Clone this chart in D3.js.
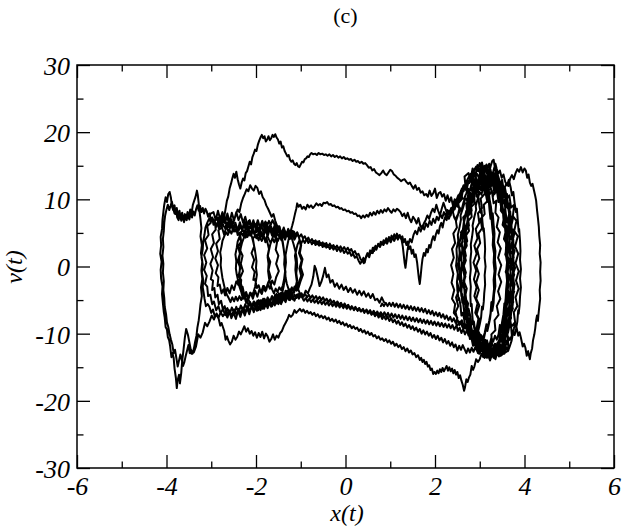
<!DOCTYPE html>
<html>
<head>
<meta charset="utf-8">
<script src="https://cdn.jsdelivr.net/npm/d3@7"></script>
<style>
  html, body { margin: 0; padding: 0; background: #fff; }
  svg { display: block; }
</style>
</head>
<body>
<svg id="chart" width="623" height="527"></svg>
<script>
// ---------------- data ----------------
const titleText = "(c)";
const xLabel = "x(t)";
const yLabel = "v(t)";
const xMajorTicks = [-6, -4, -2, 0, 2, 4, 6];
const xMinorTicks = [-5, -3, -1, 1, 3, 5];
const yMajorTicks = [-30, -20, -10, 0, 10, 20, 30];
const yMinorTicks = [-25, -15, -5, 5, 15, 25];

// trajectory pieces, in time order, as [x, v]
const startLeg = [[0.86,-5.3],[0.81,-4.6],[0.76,-5.4],[0.71,-4.8],[0.66,-5.0],[0.61,-4.1],[0.56,-4.7],[0.51,-4.0],[0.46,-4.5],[0.41,-3.7],[0.36,-4.3],[0.31,-3.6],[0.26,-4.2],[0.21,-3.4],[0.16,-3.9],[0.11,-3.2],[0.06,-3.8],[0.01,-3.0],[-0.04,-3.5],[-0.09,-2.7],[-0.14,-3.3],[-0.19,-2.5],[-0.24,-3.0],[-0.29,-2.0],[-0.34,-2.4],[-0.38,-1.2],[-0.42,-1.6],[-0.46,-0.2],[-0.50,-1.4],[-0.54,-2.3],[-0.58,-2.9],[-0.62,-1.6],[-0.66,-0.4],[-0.69,0.1],[-0.72,-1.5],[-0.76,-2.7],[-0.80,-3.3],[-0.84,-4.0],[-0.89,-3.6],[-0.94,-4.5],[-0.99,-4.0],[-1.04,-4.8],[-1.09,-4.2],[-1.14,-5.1],[-1.19,-4.4],[-1.24,-5.0],[-1.29,-4.3],[-1.34,-5.3],[-1.39,-4.7],[-1.44,-5.6],[-1.49,-4.9],[-1.54,-5.5],[-1.59,-4.8],[-1.64,-5.9],[-1.69,-5.2],[-1.74,-6.1],[-1.79,-5.3],[-1.84,-6.0],[-1.89,-5.4],[-1.94,-6.4],[-1.99,-5.7],[-2.04,-6.5],[-2.09,-5.8],[-2.14,-6.6],[-2.19,-5.9],[-2.24,-6.8],[-2.29,-6.1],[-2.34,-7.0],[-2.39,-6.3],[-2.44,-7.1],[-2.49,-6.4],[-2.54,-7.3],[-2.59,-6.7],[-2.64,-7.6],[-2.69,-6.9],[-2.74,-7.4],[-2.79,-6.8],[-2.84,-7.7],[-2.89,-7.1],[-2.94,-7.9],[-2.99,-7.3],[-3.04,-8.2],[-3.09,-8.9],[-3.14,-8.4],[-3.19,-9.8],[-3.24,-10.6],[-3.29,-10.1],[-3.34,-11.9],[-3.39,-12.8],[-3.44,-13.0]];

const leftOuterLoop = [[-3.48,-11.6],[-3.52,-10.2],[-3.56,-9.3],[-3.59,-10.6],[-3.62,-12.4],[-3.65,-14.1],[-3.67,-15.8],[-3.70,-17.4],[-3.72,-16.1],[-3.75,-16.9],[-3.77,-18.1],[-3.79,-16.6],[-3.82,-15.2],[-3.84,-13.6],[-3.87,-12.9],[-3.89,-13.5],[-3.92,-11.8],[-3.94,-11.0],[-3.97,-10.5],[-3.99,-9.4],[-4.02,-9.0],[-4.04,-7.6],[-4.06,-6.8],[-4.08,-5.5],[-4.10,-4.1],[-4.09,-3.0],[-4.12,-1.8],[-4.13,-0.5],[-4.11,0.7],[-4.14,1.9],[-4.12,3.2],[-4.13,4.4],[-4.10,5.6],[-4.09,6.9],[-4.07,8.1],[-4.05,9.2],[-4.02,10.3],[-3.99,9.6],[-3.96,10.8],[-3.93,11.1],[-3.90,10.2],[-3.88,9.0],[-3.85,8.4],[-3.82,9.1],[-3.80,7.8],[-3.77,8.7],[-3.74,7.4],[-3.71,8.3],[-3.68,7.1],[-3.65,8.0],[-3.62,6.9],[-3.59,7.8],[-3.56,7.2],[-3.53,8.1],[-3.50,7.3],[-3.47,8.5],[-3.44,7.9],[-3.41,9.2],[-3.38,9.8],[-3.35,10.4],[-3.32,11.3],[-3.30,10.6],[-3.28,9.4],[-3.26,8.1],[-3.24,7.0],[-3.22,5.7],[-3.24,4.5],[-3.21,3.2],[-3.23,2.0],[-3.20,0.8],[-3.22,-0.6],[-3.20,-1.9],[-3.23,-3.1],[-3.21,-4.4],[-3.24,-5.6],[-3.26,-6.9],[-3.28,-8.0],[-3.31,-9.1],[-3.33,-10.3],[-3.36,-11.2],[-3.39,-12.3],[-3.42,-13.0],[-3.45,-12.4],[-3.48,-12.9],[-3.51,-11.7],[-3.54,-12.5],[-3.57,-13.3],[-3.60,-14.2],[-3.63,-14.8],[-3.66,-13.9],[-3.69,-13.1],[-3.72,-14.0],[-3.75,-14.9],[-3.78,-13.6],[-3.81,-12.4],[-3.84,-12.9],[-3.87,-11.6],[-3.90,-10.9],[-3.93,-10.1],[-3.96,-9.0],[-3.99,-8.3],[-4.01,-7.1],[-4.04,-6.0],[-4.05,-4.7],[-4.07,-3.5],[-4.06,-2.2],[-4.08,-0.9],[-4.07,0.4],[-4.09,1.6],[-4.07,2.9],[-4.08,4.1],[-4.06,5.3],[-4.05,6.5],[-4.03,7.6],[-4.00,8.5],[-3.97,9.2],[-3.94,8.4],[-3.91,9.0],[-3.88,9.7],[-3.85,8.6],[-3.82,7.9],[-3.79,8.5],[-3.76,7.3],[-3.73,6.9],[-3.70,7.8],[-3.67,6.8],[-3.64,7.6],[-3.61,6.6],[-3.58,7.4],[-3.55,6.9],[-3.52,7.7],[-3.49,7.0],[-3.46,7.9],[-3.43,7.3],[-3.40,8.2],[-3.37,7.6],[-3.34,8.5],[-3.31,9.1],[-3.28,8.3],[-3.25,9.0],[-3.22,8.1],[-3.19,8.7],[-3.16,7.9],[-3.13,8.6]];

const topArcCrossing = [[-3.10,8.2],[-3.07,7.4],[-3.04,7.9],[-3.01,6.8],[-2.98,7.3],[-2.95,6.2],[-2.92,6.7],[-2.89,5.9],[-2.86,6.6],[-2.83,5.7],[-2.80,6.3],[-2.77,5.8],[-2.74,6.5],[-2.71,7.4],[-2.68,8.6],[-2.65,9.8],[-2.62,10.4],[-2.59,11.6],[-2.56,12.3],[-2.53,13.1],[-2.50,13.8],[-2.47,13.2],[-2.44,14.1],[-2.41,13.0],[-2.38,12.2],[-2.35,11.6],[-2.32,12.5],[-2.29,13.1],[-2.26,12.8],[-2.23,13.9],[-2.20,14.2],[-2.17,14.9],[-2.14,15.6],[-2.11,15.2],[-2.08,16.3],[-2.05,16.8],[-2.02,17.4],[-1.99,17.2],[-1.96,18.1],[-1.93,18.7],[-1.90,19.2],[-1.87,19.6],[-1.84,19.1],[-1.81,19.4],[-1.78,18.6],[-1.75,18.9],[-1.72,19.4],[-1.69,18.8],[-1.66,19.1],[-1.63,19.6],[-1.60,19.3],[-1.57,19.7],[-1.54,19.2],[-1.51,18.9],[-1.48,18.3],[-1.45,18.6],[-1.42,17.7],[-1.39,17.9],[-1.36,17.2],[-1.33,16.8],[-1.30,16.4],[-1.27,16.6],[-1.24,15.9],[-1.21,15.6],[-1.18,15.8],[-1.15,15.3],[-1.12,15.1],[-1.09,15.4],[-1.06,14.9],[-1.03,14.8],[-1.00,15.2],[-0.97,15.6],[-0.94,15.5],[-0.91,16.0],[-0.88,16.1],[-0.85,16.4],[-0.82,16.3],[-0.79,16.7],[-0.76,16.9],[-0.72,16.7],[-0.68,16.8],[-0.64,16.6],[-0.60,16.9],[-0.56,16.7],[-0.52,16.8],[-0.48,16.6],[-0.44,16.7],[-0.40,16.5],[-0.36,16.7],[-0.32,16.4],[-0.28,16.6],[-0.24,16.3],[-0.20,16.5],[-0.16,16.2],[-0.12,16.4],[-0.08,16.1],[-0.04,16.3],[0.00,16.0],[0.04,16.1],[0.08,15.9],[0.12,16.0],[0.16,15.7],[0.20,15.9],[0.24,15.6],[0.28,15.7],[0.32,15.4],[0.36,15.6],[0.40,15.3],[0.44,15.4],[0.48,15.1],[0.52,14.7],[0.56,14.8],[0.60,14.3],[0.64,14.5],[0.68,14.0],[0.72,13.8],[0.76,13.6],[0.80,13.9],[0.84,14.3],[0.88,13.8],[0.92,13.6],[0.96,14.0],[1.00,14.4],[1.04,14.2],[1.08,13.7],[1.12,13.5],[1.16,13.2],[1.20,13.0],[1.24,12.7],[1.28,12.9],[1.32,13.0],[1.36,12.6],[1.40,12.3],[1.44,12.5],[1.48,12.0],[1.52,11.6],[1.56,12.1],[1.60,11.4],[1.64,11.7],[1.68,11.0],[1.72,11.2],[1.76,10.6],[1.80,10.8],[1.84,10.4],[1.88,11.3],[1.92,10.5],[1.96,10.9],[2.00,11.6],[2.04,10.2],[2.08,10.9],[2.12,11.1],[2.16,10.4],[2.20,10.8],[2.24,9.8],[2.28,10.6],[2.32,9.6],[2.36,10.3],[2.40,9.1],[2.44,10.0],[2.48,9.3],[2.52,10.5],[2.56,10.9],[2.60,11.6],[2.64,11.2],[2.68,12.4],[2.72,12.9],[2.76,12.4],[2.80,13.8],[2.84,13.3],[2.88,14.4],[2.92,14.9],[2.96,14.2],[3.00,15.4],[3.04,14.6],[3.07,13.6],[3.10,14.4],[3.13,15.0],[3.16,13.9],[3.19,13.2],[3.22,14.3],[3.25,15.1],[3.28,15.7],[3.31,15.9],[3.34,14.6],[3.37,13.6],[3.40,12.8],[3.43,11.6],[3.46,12.1],[3.49,10.5],[3.52,9.4],[3.55,9.9],[3.58,8.0],[3.61,6.6],[3.63,7.1],[3.65,5.2],[3.67,3.8],[3.66,2.5],[3.69,1.1],[3.68,-0.3],[3.70,-1.7],[3.68,-3.0],[3.69,-4.4],[3.66,-5.7],[3.64,-6.9],[3.62,-6.3],[3.60,-8.0],[3.57,-9.1],[3.53,-9.6],[3.50,-10.8],[3.46,-10.2],[3.42,-11.4],[3.38,-12.0],[3.34,-11.5],[3.30,-12.6],[3.26,-12.9],[3.22,-12.2],[3.18,-12.7],[3.14,-11.8],[3.10,-12.3],[3.06,-11.2],[3.02,-11.6],[2.98,-10.5],[2.94,-9.8],[2.91,-10.4],[2.87,-8.9],[2.84,-8.2],[2.81,-8.7],[2.78,-7.1],[2.75,-6.3],[2.73,-6.8],[2.70,-5.1],[2.68,-4.0],[2.67,-4.5],[2.65,-2.9],[2.66,-1.6],[2.63,-0.3],[2.65,1.0],[2.64,2.3],[2.67,3.6],[2.66,4.5],[2.70,5.8],[2.73,7.0],[2.72,7.7],[2.77,8.9],[2.81,9.8],[2.84,9.5],[2.88,10.9],[2.92,11.5],[2.96,11.0],[3.00,12.3],[3.04,12.9],[3.08,12.1],[3.12,12.9],[3.16,11.8],[3.20,12.5],[3.24,11.7],[3.28,12.6],[3.32,12.0],[3.36,11.2],[3.40,11.9],[3.44,10.8],[3.48,11.3],[3.52,10.5],[3.56,11.8],[3.60,12.4],[3.64,12.0],[3.68,13.1],[3.72,13.6],[3.76,13.0],[3.80,13.9],[3.84,14.5],[3.88,14.1],[3.92,14.8],[3.96,14.0],[4.00,14.6],[4.03,14.3],[4.06,13.2],[4.09,13.7],[4.12,12.5],[4.15,12.0],[4.18,12.3],[4.21,11.4],[4.24,10.5],[4.26,9.8],[4.28,8.4],[4.30,7.2],[4.32,5.9],[4.33,4.6],[4.35,3.2],[4.34,1.9],[4.36,0.6],[4.35,-0.8],[4.36,-2.1],[4.34,-3.5],[4.35,-4.8],[4.33,-6.0],[4.31,-7.3],[4.30,-8.1],[4.28,-7.3],[4.26,-8.0],[4.24,-9.2],[4.22,-10.1],[4.19,-11.0],[4.17,-12.2],[4.14,-12.9],[4.12,-13.8],[4.10,-13.2],[4.08,-12.6],[4.05,-13.3],[4.02,-12.1],[3.99,-11.5],[3.96,-11.9],[3.92,-10.6],[3.89,-9.8],[3.86,-10.3],[3.82,-9.0],[3.79,-8.5],[3.76,-9.3],[3.72,-10.2],[3.68,-10.9],[3.64,-10.5],[3.60,-11.5],[3.56,-12.0],[3.52,-11.4],[3.48,-12.3],[3.44,-11.8],[3.40,-12.7],[3.36,-12.1],[3.32,-13.0],[3.28,-12.4],[3.24,-13.3],[3.20,-12.8],[3.16,-13.6],[3.12,-12.9],[3.08,-13.5],[3.04,-13.0],[3.00,-13.8]];

const bottomLowCrossing = [[2.96,-14.2],[2.92,-13.8],[2.88,-14.9],[2.85,-15.4],[2.82,-14.8],[2.79,-16.1],[2.76,-16.5],[2.73,-17.2],[2.70,-16.8],[2.67,-18.0],[2.65,-18.5],[2.62,-17.6],[2.59,-17.0],[2.56,-16.2],[2.53,-16.6],[2.50,-15.7],[2.47,-16.1],[2.44,-15.4],[2.41,-15.9],[2.38,-15.2],[2.35,-15.6],[2.32,-15.0],[2.29,-15.5],[2.26,-14.8],[2.23,-15.2],[2.20,-15.6],[2.17,-15.1],[2.14,-15.7],[2.11,-15.3],[2.08,-15.9],[2.05,-15.5],[2.02,-16.0],[1.99,-15.7],[1.96,-16.0],[1.93,-15.2],[1.90,-15.4],[1.87,-14.7],[1.84,-14.9],[1.81,-14.2],[1.78,-14.5],[1.75,-13.9],[1.72,-14.2],[1.69,-13.6],[1.66,-13.9],[1.62,-13.2],[1.58,-13.5],[1.54,-12.9],[1.50,-13.1],[1.46,-12.5],[1.42,-12.8],[1.38,-12.2],[1.34,-12.6],[1.30,-12.0],[1.26,-12.3],[1.22,-11.7],[1.18,-12.0],[1.14,-11.5],[1.10,-11.8],[1.06,-11.2],[1.02,-11.5],[0.98,-11.0],[0.94,-11.3],[0.90,-10.8],[0.86,-11.1],[0.82,-10.7],[0.78,-10.9],[0.74,-10.4],[0.70,-10.7],[0.66,-10.2],[0.62,-10.4],[0.58,-9.9],[0.54,-10.2],[0.50,-9.7],[0.46,-10.0],[0.42,-9.5],[0.38,-9.8],[0.34,-9.3],[0.30,-9.6],[0.26,-9.1],[0.22,-9.3],[0.18,-8.9],[0.14,-9.2],[0.10,-8.7],[0.06,-9.0],[0.02,-8.5],[-0.02,-8.8],[-0.06,-8.3],[-0.10,-8.6],[-0.14,-8.1],[-0.18,-8.4],[-0.22,-7.9],[-0.26,-8.2],[-0.30,-7.8],[-0.34,-8.1],[-0.38,-7.6],[-0.42,-7.9],[-0.46,-7.4],[-0.50,-7.7],[-0.54,-7.3],[-0.58,-7.6],[-0.62,-7.1],[-0.66,-7.4],[-0.70,-6.9],[-0.74,-7.2],[-0.78,-6.8],[-0.82,-7.0],[-0.86,-6.6],[-0.90,-6.9],[-0.94,-6.4],[-0.98,-6.7],[-1.02,-6.3],[-1.06,-6.6],[-1.10,-6.9],[-1.14,-6.5],[-1.18,-7.2],[-1.22,-7.5],[-1.26,-7.2],[-1.30,-7.9],[-1.34,-8.4],[-1.38,-8.9],[-1.42,-9.6],[-1.46,-9.9],[-1.50,-10.6],[-1.54,-10.3],[-1.58,-10.9],[-1.62,-10.1],[-1.66,-10.8],[-1.70,-11.2],[-1.74,-10.4],[-1.78,-10.0],[-1.82,-10.7],[-1.86,-9.7],[-1.90,-10.5],[-1.94,-9.9],[-1.98,-10.6],[-2.02,-9.8],[-2.06,-10.3],[-2.10,-9.6],[-2.14,-10.0],[-2.18,-9.2],[-2.22,-9.7],[-2.26,-8.9],[-2.30,-9.5],[-2.34,-10.1],[-2.38,-9.7],[-2.42,-10.5],[-2.46,-10.9],[-2.50,-10.3],[-2.54,-11.2],[-2.58,-11.6],[-2.62,-11.0],[-2.65,-10.4],[-2.68,-10.9],[-2.71,-9.6],[-2.74,-9.0],[-2.77,-8.4],[-2.80,-8.8],[-2.84,-7.6],[-2.88,-7.0],[-2.92,-7.5],[-2.96,-6.4],[-3.00,-6.9],[-3.04,-6.0],[-3.08,-5.6],[-3.12,-5.9],[-3.15,-4.8],[-3.17,-3.9],[-3.19,-3.1],[-3.18,-2.0],[-3.21,-0.9],[-3.19,0.3],[-3.22,1.4],[-3.19,2.6],[-3.18,3.7],[-3.15,4.8],[-3.13,5.8],[-3.09,6.5],[-3.05,7.1],[-3.01,6.6]];

const leftMidLoops = [[-2.97,7.2],[-2.93,6.5],[-2.89,7.4],[-2.85,6.8],[-2.81,6.2],[-2.77,6.9],[-2.73,6.1],[-2.69,5.7],[-2.65,6.5],[-2.61,5.9],[-2.57,6.6],[-2.53,6.0],[-2.49,6.9],[-2.45,7.7],[-2.41,8.5],[-2.37,8.1],[-2.33,9.4],[-2.29,10.2],[-2.25,10.8],[-2.21,11.5],[-2.17,11.2],[-2.13,12.1],[-2.09,11.6],[-2.05,11.3],[-2.01,12.0],[-1.97,11.7],[-1.93,10.8],[-1.89,11.2],[-1.85,10.3],[-1.81,9.9],[-1.77,9.1],[-1.73,8.6],[-1.69,8.0],[-1.65,7.4],[-1.61,7.8],[-1.57,6.8],[-1.53,6.1],[-1.50,5.4],[-1.47,5.9],[-1.44,4.6],[-1.41,3.7],[-1.38,2.5],[-1.36,1.4],[-1.37,0.3],[-1.34,-0.8],[-1.36,-1.9],[-1.38,-2.9],[-1.41,-3.8],[-1.45,-4.4],[-1.49,-4.0],[-1.53,-4.7],[-1.57,-4.2],[-1.61,-5.0],[-1.65,-4.5],[-1.69,-5.3],[-1.73,-4.7],[-1.77,-5.4],[-1.81,-4.8],[-1.85,-5.6],[-1.89,-5.0],[-1.93,-5.7],[-1.97,-5.1],[-2.01,-5.8],[-2.05,-5.2],[-2.09,-5.9],[-2.13,-5.3],[-2.17,-5.7],[-2.21,-5.0],[-2.25,-4.4],[-2.29,-4.8],[-2.33,-3.8],[-2.37,-3.0],[-2.40,-2.1],[-2.43,-1.2],[-2.45,-0.3],[-2.44,0.8],[-2.46,1.8],[-2.43,2.8],[-2.41,3.7],[-2.37,4.4],[-2.33,5.0],[-2.29,4.6],[-2.25,5.4],[-2.21,4.9],[-2.17,5.6],[-2.13,5.0],[-2.09,4.4],[-2.06,3.6],[-2.03,2.7],[-2.01,1.8],[-1.99,0.8],[-2.00,-0.2],[-1.98,-1.2],[-2.00,-2.1],[-2.02,-3.0],[-2.05,-3.7],[-2.09,-4.3],[-2.13,-3.9],[-2.17,-4.6],[-2.21,-4.1],[-2.25,-4.8],[-2.29,-4.3],[-2.33,-5.0],[-2.37,-4.4],[-2.41,-5.1],[-2.45,-4.5],[-2.49,-5.2],[-2.53,-4.6],[-2.57,-5.3],[-2.61,-4.7],[-2.65,-4.2],[-2.69,-3.5],[-2.72,-2.6],[-2.75,-1.7],[-2.77,-0.8],[-2.79,0.2],[-2.78,1.2],[-2.80,2.1],[-2.77,3.0],[-2.75,3.8],[-2.71,4.5],[-2.67,5.1],[-2.63,4.7],[-2.59,5.4],[-2.55,4.9],[-2.51,5.7],[-2.47,5.2],[-2.43,5.9],[-2.39,5.3],[-2.35,6.0],[-2.31,5.4],[-2.27,6.1],[-2.23,5.5],[-2.19,6.2],[-2.15,5.6],[-2.11,6.3],[-2.07,5.7],[-2.03,6.4],[-1.99,5.8],[-1.95,6.5],[-1.91,5.9],[-1.87,6.6],[-1.83,6.0],[-1.79,6.7],[-1.75,6.1],[-1.71,6.8],[-1.67,6.2],[-1.63,6.9],[-1.59,6.3],[-1.55,5.6],[-1.51,6.0],[-1.47,5.2],[-1.43,4.5],[-1.40,3.6],[-1.38,2.6],[-1.36,1.5],[-1.37,0.4],[-1.35,-0.7],[-1.37,-1.8],[-1.40,-2.8],[-1.44,-3.5],[-1.48,-3.1],[-1.52,-3.8],[-1.56,-3.3],[-1.60,-4.0],[-1.64,-3.4],[-1.68,-2.6],[-1.71,-1.7],[-1.73,-0.7],[-1.72,0.4],[-1.74,1.4],[-1.71,2.4],[-1.68,3.3],[-1.64,4.1],[-1.60,4.7],[-1.56,4.2],[-1.52,5.0],[-1.48,4.4],[-1.44,5.2],[-1.40,4.6],[-1.36,5.4],[-1.32,4.8],[-1.28,5.6],[-1.24,5.0],[-1.20,4.2],[-1.16,3.3],[-1.12,2.3],[-1.09,1.2],[-1.08,0.1],[-1.10,-1.0],[-1.08,-2.0],[-1.11,-2.9],[-1.15,-3.6],[-1.19,-3.2],[-1.23,-3.9],[-1.27,-3.4],[-1.31,-2.6],[-1.34,-1.6],[-1.35,-0.5],[-1.33,0.6],[-1.34,1.7],[-1.31,2.8],[-1.28,3.8],[-1.25,4.6],[-1.22,5.4],[-1.19,6.1],[-1.16,6.9],[-1.13,7.8],[-1.10,8.6],[-1.08,9.4]];

const upperCrossing = [[-1.05,8.9],[-1.01,9.2],[-0.97,8.6],[-0.93,8.9],[-0.89,8.5],[-0.85,9.2],[-0.81,8.8],[-0.77,9.1],[-0.73,8.7],[-0.69,9.0],[-0.65,9.4],[-0.61,9.1],[-0.57,9.3],[-0.53,9.0],[-0.49,9.5],[-0.45,9.4],[-0.41,9.6],[-0.37,9.2],[-0.33,9.3],[-0.29,9.0],[-0.25,9.1],[-0.21,8.8],[-0.17,8.9],[-0.13,8.6],[-0.09,8.7],[-0.05,8.4],[-0.01,8.5],[0.03,8.2],[0.07,8.3],[0.11,8.0],[0.15,8.1],[0.19,7.8],[0.23,7.9],[0.27,7.5],[0.31,7.6],[0.35,7.2],[0.39,7.6],[0.43,7.3],[0.47,7.7],[0.51,7.4],[0.55,8.0],[0.59,7.6],[0.63,8.1],[0.67,7.7],[0.71,8.3],[0.75,7.9],[0.79,8.4],[0.83,8.0],[0.87,8.5],[0.91,8.2],[0.95,8.7],[0.99,8.3],[1.03,8.0],[1.07,8.5],[1.11,8.2],[1.15,8.6],[1.19,8.4],[1.23,8.1],[1.27,7.5],[1.31,7.9],[1.35,7.2],[1.39,8.0],[1.43,7.1],[1.47,6.6],[1.51,7.4],[1.55,7.0],[1.59,6.4],[1.63,7.2],[1.67,6.1],[1.71,5.6],[1.75,6.4],[1.79,6.9],[1.83,7.6],[1.87,7.1],[1.91,8.0],[1.95,8.6],[1.99,8.1],[2.03,9.2],[2.07,8.3],[2.11,7.6],[2.15,8.6],[2.19,9.5],[2.23,8.7],[2.27,7.9],[2.31,7.1],[2.35,7.8],[2.39,8.4],[2.43,7.3],[2.47,6.8]];

const rightLoopsB = [[2.51,7.6],[2.55,8.8],[2.59,8.3],[2.63,9.4],[2.67,10.2],[2.71,9.8],[2.75,11.0],[2.79,11.6],[2.83,11.2],[2.87,12.4],[2.91,12.9],[2.95,12.3],[2.99,13.4],[3.03,13.7],[3.07,12.8],[3.10,13.3],[3.13,12.1],[3.16,11.2],[3.19,11.6],[3.22,10.0],[3.25,8.9],[3.27,7.6],[3.29,7.9],[3.31,6.2],[3.33,4.9],[3.32,3.6],[3.35,2.3],[3.34,1.0],[3.36,-0.3],[3.34,-1.6],[3.35,-2.9],[3.32,-4.1],[3.31,-5.4],[3.28,-6.6],[3.26,-6.1],[3.23,-7.8],[3.20,-8.7],[3.17,-9.6],[3.14,-9.2],[3.10,-10.5],[3.06,-11.2],[3.02,-10.7],[2.98,-11.6],[2.94,-11.0],[2.90,-11.8],[2.86,-11.3],[2.82,-10.4],[2.78,-10.8],[2.75,-9.5],[2.71,-8.9],[2.68,-9.2],[2.65,-7.8],[2.62,-6.9],[2.59,-7.3],[2.57,-5.8],[2.54,-4.7],[2.53,-5.0],[2.50,-3.5],[2.49,-2.3],[2.51,-1.1],[2.47,0.1],[2.49,1.4],[2.48,2.6],[2.52,3.8],[2.51,4.7],[2.55,5.9],[2.58,7.0],[2.57,7.6],[2.62,8.6],[2.66,9.5],[2.65,10.1],[2.70,10.9],[2.74,11.6],[2.78,11.3],[2.82,12.4],[2.86,12.0],[2.90,13.2],[2.94,13.8],[2.98,13.2],[3.02,14.3],[3.06,14.7],[3.09,13.6],[3.12,14.5],[3.15,15.2],[3.18,14.6],[3.21,15.3],[3.24,14.0],[3.27,13.6],[3.30,12.8],[3.34,13.3],[3.38,12.1],[3.42,12.6],[3.46,11.8],[3.50,12.9],[3.53,11.6],[3.56,10.7],[3.59,9.5],[3.62,9.9],[3.65,8.2],[3.67,7.0],[3.69,5.6],[3.71,6.0],[3.72,4.3],[3.74,2.9],[3.73,1.6],[3.75,0.3],[3.74,-1.0],[3.75,-2.4],[3.73,-3.7],[3.72,-5.0],[3.70,-6.2],[3.68,-5.8],[3.66,-7.4],[3.63,-8.5],[3.61,-9.5],[3.58,-9.0],[3.55,-10.6],[3.51,-11.4],[3.48,-12.0],[3.44,-11.4],[3.40,-12.3],[3.36,-12.8],[3.32,-12.2],[3.28,-13.1],[3.24,-13.5],[3.20,-12.7],[3.16,-13.0],[3.12,-12.1],[3.08,-12.6],[3.04,-11.8],[3.00,-12.4],[2.96,-12.9],[2.92,-12.1],[2.88,-11.4],[2.85,-11.8],[2.81,-10.5],[2.78,-9.6],[2.75,-10.0],[2.72,-8.5],[2.69,-7.4],[2.67,-7.8],[2.64,-6.1],[2.62,-5.0],[2.61,-5.4],[2.59,-3.7],[2.60,-2.5],[2.58,-1.3],[2.60,0.0],[2.59,1.3],[2.61,2.5],[2.60,3.4],[2.63,4.6],[2.65,5.8],[2.64,6.3],[2.68,7.5],[2.72,8.6],[2.71,9.0],[2.75,10.1],[2.79,11.0],[2.83,10.6],[2.87,11.8],[2.91,12.6],[2.95,12.1],[2.98,13.3],[3.01,13.9],[3.04,13.0],[3.07,13.6],[3.10,14.2],[3.13,13.1],[3.16,12.6],[3.19,13.4],[3.22,12.3],[3.26,12.8],[3.30,11.9],[3.34,12.6],[3.37,11.5],[3.40,10.6],[3.43,11.0],[3.46,9.5],[3.49,8.4],[3.51,8.8],[3.53,7.1],[3.55,5.9],[3.56,6.2],[3.58,4.5],[3.59,3.2],[3.58,1.9],[3.61,0.6],[3.59,-0.7],[3.61,-2.1],[3.59,-3.4],[3.58,-4.7],[3.56,-5.9],[3.55,-5.5],[3.53,-7.1],[3.50,-8.2],[3.48,-9.1],[3.45,-8.7],[3.42,-10.1],[3.38,-10.9],[3.34,-10.3],[3.30,-11.2],[3.26,-10.6],[3.22,-11.6],[3.18,-12.0],[3.14,-11.4],[3.10,-12.4],[3.06,-11.8],[3.02,-12.5],[2.98,-11.9],[2.94,-12.6],[2.90,-12.0],[2.86,-12.7],[2.82,-12.1],[2.78,-12.8],[2.74,-12.2],[2.70,-12.9],[2.66,-12.3],[2.62,-11.7],[2.58,-12.4],[2.54,-11.8],[2.50,-12.5]];

const bottomMidCrossing = [[2.46,-11.6],[2.42,-12.0],[2.38,-11.3],[2.34,-11.8],[2.30,-11.1],[2.26,-11.5],[2.22,-10.8],[2.18,-11.3],[2.14,-10.6],[2.10,-11.0],[2.06,-10.3],[2.02,-10.8],[1.98,-10.2],[1.94,-10.6],[1.90,-9.9],[1.86,-10.3],[1.82,-9.7],[1.78,-10.1],[1.74,-9.5],[1.70,-10.0],[1.66,-9.3],[1.62,-9.7],[1.58,-9.1],[1.54,-9.5],[1.50,-8.9],[1.46,-9.3],[1.42,-8.7],[1.38,-9.1],[1.34,-8.5],[1.30,-8.9],[1.26,-8.3],[1.22,-8.7],[1.18,-8.1],[1.14,-8.5],[1.10,-7.9],[1.06,-8.3],[1.02,-7.7],[0.98,-8.1],[0.94,-7.5],[0.90,-7.9],[0.86,-7.4],[0.82,-7.8],[0.78,-7.2],[0.74,-7.6],[0.70,-7.0],[0.66,-7.4],[0.62,-6.9],[0.58,-7.2],[0.54,-6.7],[0.50,-7.0],[0.46,-6.5],[0.42,-6.9],[0.38,-6.4],[0.34,-6.7],[0.30,-6.2],[0.26,-6.5],[0.22,-6.0],[0.18,-6.4],[0.14,-5.9],[0.10,-6.2],[0.06,-5.7],[0.02,-6.0],[-0.02,-5.5],[-0.06,-5.9],[-0.10,-5.4],[-0.14,-5.7],[-0.18,-5.2],[-0.22,-5.6],[-0.26,-5.1],[-0.30,-5.4],[-0.34,-4.9],[-0.38,-5.3],[-0.42,-4.8],[-0.46,-5.1],[-0.50,-4.6],[-0.54,-5.0],[-0.58,-4.5],[-0.62,-4.9],[-0.66,-4.4],[-0.70,-4.8],[-0.74,-4.3],[-0.78,-4.7],[-0.82,-4.2],[-0.86,-4.6],[-0.90,-4.1],[-0.94,-4.5],[-0.98,-4.0],[-1.02,-4.6],[-1.06,-4.1],[-1.10,-4.7],[-1.14,-4.2],[-1.18,-4.9],[-1.22,-4.3],[-1.26,-5.0],[-1.30,-4.4],[-1.34,-5.1],[-1.38,-4.6],[-1.42,-5.3],[-1.46,-4.8],[-1.50,-5.6],[-1.54,-5.0],[-1.58,-5.8],[-1.62,-5.2],[-1.66,-6.0],[-1.70,-5.4],[-1.74,-6.2],[-1.78,-5.6],[-1.82,-6.3],[-1.86,-5.7],[-1.90,-6.5],[-1.94,-5.9],[-1.98,-6.6],[-2.02,-6.0],[-2.06,-5.5],[-2.10,-6.1],[-2.14,-5.3],[-2.18,-4.8],[-2.22,-5.4],[-2.26,-4.5],[-2.29,-3.8],[-2.32,-3.0],[-2.35,-2.1],[-2.37,-1.2],[-2.36,-0.2],[-2.38,0.8],[-2.36,1.8],[-2.34,2.8],[-2.31,3.6],[-2.27,4.3],[-2.23,4.9],[-2.19,4.4],[-2.15,5.1],[-2.11,4.6],[-2.07,5.3],[-2.03,4.7],[-1.99,4.2],[-1.95,4.9],[-1.91,4.3],[-1.87,3.8],[-1.83,4.5],[-1.79,3.9],[-1.75,4.6],[-1.71,4.0],[-1.67,3.5],[-1.63,4.2],[-1.59,3.6],[-1.55,4.4],[-1.51,3.8],[-1.47,4.5],[-1.43,3.9],[-1.39,4.6],[-1.35,4.0],[-1.31,4.8],[-1.27,4.3],[-1.23,5.1],[-1.19,4.5],[-1.15,5.2],[-1.11,4.6],[-1.07,5.0]];

const leftMidLoops2 = [[-1.03,4.1],[-0.99,3.2],[-1.02,2.0],[-0.96,1.1],[-1.00,-0.1],[-0.95,-1.2],[-1.01,-2.3],[-1.05,-3.2],[-1.10,-2.7],[-1.15,-3.9],[-1.20,-3.1],[-1.25,-4.3],[-1.30,-3.6],[-1.35,-4.8],[-1.40,-3.9],[-1.45,-5.1],[-1.50,-4.2],[-1.55,-5.5],[-1.60,-4.6],[-1.65,-5.8],[-1.70,-4.9],[-1.75,-6.0],[-1.80,-5.1],[-1.85,-6.3],[-1.90,-5.4],[-1.95,-6.5],[-2.00,-5.6],[-2.05,-6.8],[-2.10,-5.9],[-2.15,-7.1],[-2.20,-6.2],[-2.25,-7.3],[-2.30,-6.4],[-2.35,-7.5],[-2.40,-6.6],[-2.45,-7.8],[-2.50,-6.9],[-2.55,-7.7],[-2.60,-6.5],[-2.65,-7.2],[-2.70,-5.9],[-2.74,-6.4],[-2.78,-5.1],[-2.83,-5.6],[-2.86,-4.2],[-2.91,-4.6],[-2.93,-3.2],[-2.98,-3.5],[-2.96,-2.1],[-3.01,-1.9],[-2.97,-0.6],[-3.02,0.4],[-2.96,1.4],[-3.01,2.6],[-2.94,3.5],[-2.98,4.8],[-2.90,5.5],[-2.92,6.9],[-2.84,7.3],[-2.79,6.1],[-2.74,7.6],[-2.69,6.4],[-2.64,7.9],[-2.59,6.6],[-2.54,8.0],[-2.49,6.8],[-2.44,8.1],[-2.39,6.9],[-2.34,7.8],[-2.29,6.5],[-2.24,7.4],[-2.19,6.1],[-2.14,6.9],[-2.09,5.6],[-2.04,6.4],[-1.99,5.1],[-1.94,5.8],[-1.89,4.4],[-1.84,5.0],[-1.79,3.6],[-1.76,4.0],[-1.71,2.6],[-1.74,1.6],[-1.68,0.7],[-1.72,-0.5],[-1.67,-1.6],[-1.73,-2.4],[-1.77,-3.5],[-1.82,-2.9],[-1.87,-4.1],[-1.92,-3.3],[-1.97,-4.5],[-2.02,-3.6],[-2.07,-4.8],[-2.12,-3.9],[-2.17,-4.9],[-2.22,-3.8],[-2.26,-4.3],[-2.30,-3.0],[-2.35,-3.3],[-2.33,-2.0],[-2.39,-1.4],[-2.35,-0.2],[-2.41,0.8],[-2.36,1.9],[-2.40,3.0],[-2.33,3.7],[-2.36,5.0],[-2.28,5.4],[-2.23,4.3],[-2.18,5.7],[-2.13,4.6],[-2.08,5.9],[-2.03,4.8],[-1.98,6.0],[-1.93,4.9],[-1.88,6.1],[-1.83,5.0],[-1.78,6.2],[-1.73,5.1],[-1.68,6.3],[-1.63,5.2],[-1.58,6.2],[-1.53,5.1],[-1.48,6.0],[-1.43,4.9],[-1.38,5.8],[-1.33,4.7],[-1.28,5.5],[-1.23,4.5],[-1.18,5.3],[-1.13,4.4],[-1.08,5.1]];

const leftMidLoops3 = [[-1.04,4.3],[-1.00,3.1],[-1.04,2.0],[-0.98,0.9],[-1.03,-0.3],[-0.99,-1.4],[-1.05,-2.5],[-1.09,-3.6],[-1.14,-3.0],[-1.19,-4.2],[-1.24,-3.4],[-1.29,-4.5],[-1.34,-3.6],[-1.39,-4.8],[-1.44,-3.9],[-1.49,-5.0],[-1.54,-4.1],[-1.59,-5.3],[-1.64,-4.4],[-1.69,-5.5],[-1.74,-4.6],[-1.79,-5.7],[-1.84,-4.8],[-1.89,-5.9],[-1.94,-5.0],[-1.99,-6.1],[-2.04,-5.2],[-2.09,-6.3],[-2.14,-5.4],[-2.19,-6.5],[-2.24,-5.6],[-2.29,-6.7],[-2.34,-5.8],[-2.39,-6.9],[-2.44,-6.0],[-2.49,-7.0],[-2.54,-6.1],[-2.59,-7.1],[-2.64,-6.2],[-2.69,-7.2],[-2.74,-6.3],[-2.79,-7.0],[-2.84,-5.9],[-2.89,-6.5],[-2.94,-5.2],[-2.98,-5.6],[-3.02,-4.2],[-3.07,-4.4],[-3.09,-3.0],[-3.14,-2.6],[-3.10,-1.4],[-3.16,-0.5],[-3.11,0.6],[-3.16,1.7],[-3.09,2.7],[-3.14,3.9],[-3.06,4.7],[-3.09,6.0],[-3.01,6.5],[-3.03,7.8],[-2.95,8.1],[-2.90,6.9],[-2.85,8.3],[-2.80,7.0],[-2.75,8.1],[-2.70,6.7],[-2.65,7.6],[-2.60,6.2],[-2.55,7.0],[-2.50,5.6],[-2.46,6.2],[-2.41,4.7],[-2.38,5.0],[-2.33,3.5],[-2.36,2.5],[-2.30,1.6],[-2.34,0.4],[-2.29,-0.7],[-2.35,-1.6],[-2.39,-2.8],[-2.44,-2.2],[-2.49,-3.5],[-2.54,-2.8],[-2.59,-4.0],[-2.64,-3.2],[-2.69,-4.3],[-2.73,-3.4],[-2.77,-4.0],[-2.81,-2.7],[-2.86,-2.9],[-2.84,-1.6],[-2.90,-1.0],[-2.85,0.2],[-2.91,1.2],[-2.85,2.3],[-2.89,3.4],[-2.81,4.1],[-2.84,5.4],[-2.76,5.8],[-2.71,4.7],[-2.66,6.1],[-2.61,5.0],[-2.56,6.3],[-2.51,5.2],[-2.46,6.5],[-2.41,5.4],[-2.36,6.6],[-2.31,5.5],[-2.26,6.7],[-2.21,5.6],[-2.16,6.8],[-2.11,5.7],[-2.06,6.9],[-2.01,5.8],[-1.96,6.9],[-1.91,5.8],[-1.86,6.8],[-1.81,5.6],[-1.76,6.5],[-1.71,5.2],[-1.66,5.9],[-1.61,4.6],[-1.58,5.0],[-1.53,3.6],[-1.56,2.5],[-1.50,1.6],[-1.55,0.4],[-1.49,-0.7],[-1.55,-1.6],[-1.59,-2.7],[-1.64,-2.1],[-1.69,-3.3],[-1.74,-2.6],[-1.79,-3.7],[-1.84,-2.9],[-1.89,-3.9],[-1.94,-2.8],[-1.98,-3.2],[-2.02,-1.9],[-2.06,-2.0],[-2.03,-0.8],[-2.09,-0.1],[-2.04,1.0],[-2.10,2.0],[-2.04,3.0],[-2.07,4.2],[-1.99,4.7],[-1.94,3.9],[-1.89,5.2],[-1.84,4.3],[-1.79,5.5],[-1.74,4.5],[-1.69,5.6],[-1.64,4.6],[-1.59,5.6],[-1.54,4.6],[-1.49,5.5],[-1.44,4.4],[-1.39,5.3],[-1.34,4.3],[-1.29,5.1],[-1.24,4.1],[-1.19,4.9],[-1.14,4.0],[-1.09,4.7]];

const midCrossing = [[-1.03,4.4],[-0.99,4.8],[-0.95,4.2],[-0.91,4.5],[-0.87,3.9],[-0.83,4.3],[-0.79,3.7],[-0.75,4.1],[-0.71,3.5],[-0.67,3.9],[-0.63,3.3],[-0.59,3.8],[-0.55,3.2],[-0.51,3.6],[-0.47,3.0],[-0.43,3.5],[-0.39,2.9],[-0.35,3.4],[-0.31,2.8],[-0.27,3.2],[-0.23,2.7],[-0.19,3.1],[-0.15,2.6],[-0.11,3.0],[-0.07,2.5],[-0.03,2.9],[0.01,2.4],[0.05,2.8],[0.09,2.3],[0.13,2.6],[0.17,2.0],[0.21,2.3],[0.25,1.7],[0.29,1.9],[0.33,1.2],[0.37,0.8],[0.40,1.3],[0.43,0.6],[0.46,1.5],[0.49,2.0],[0.52,1.6],[0.55,2.4],[0.58,2.0],[0.61,2.8],[0.64,2.3],[0.67,3.1],[0.70,2.7],[0.73,3.4],[0.76,3.0],[0.79,3.7],[0.82,3.3],[0.85,3.9],[0.88,3.5],[0.91,4.2],[0.94,3.7],[0.97,4.4],[1.00,3.9],[1.03,4.6],[1.06,4.1],[1.09,4.8],[1.12,4.3],[1.15,4.9],[1.18,4.4],[1.21,4.7],[1.24,4.1],[1.27,4.5],[1.30,3.6],[1.33,4.1],[1.36,3.2],[1.39,3.7],[1.42,2.6],[1.45,3.0],[1.48,1.9],[1.51,2.5],[1.54,1.4],[1.57,1.8],[1.60,0.6],[1.62,-0.6],[1.64,-1.8],[1.66,-2.6],[1.68,-1.4],[1.70,0.0],[1.72,1.1],[1.75,2.0],[1.78,1.6],[1.81,2.6],[1.84,2.1],[1.87,3.2],[1.90,2.8],[1.93,3.9],[1.96,4.5],[1.99,3.9],[2.02,4.8],[2.05,5.4],[2.08,4.9],[2.11,6.0],[2.14,6.5],[2.17,5.8],[2.20,6.8],[2.23,7.4],[2.26,6.9],[2.29,7.8],[2.32,8.3],[2.35,7.6],[2.38,8.6],[2.41,9.2],[2.44,8.5],[2.47,9.4],[2.50,8.9]];

const rightLoopsC = [[2.53,9.7],[2.56,10.4],[2.59,10.1],[2.62,11.2],[2.66,11.8],[2.70,11.3],[2.74,12.4],[2.78,12.9],[2.82,12.5],[2.86,13.4],[2.90,13.7],[2.93,12.8],[2.96,12.3],[3.00,13.2],[3.04,12.6],[3.08,11.7],[3.11,12.0],[3.14,10.6],[3.17,9.6],[3.20,9.9],[3.22,8.3],[3.24,7.1],[3.26,7.4],[3.28,5.8],[3.30,4.5],[3.29,3.2],[3.32,1.9],[3.31,0.6],[3.33,-0.7],[3.31,-2.0],[3.32,-3.3],[3.30,-4.6],[3.28,-5.8],[3.26,-5.3],[3.24,-7.0],[3.21,-8.1],[3.18,-9.0],[3.15,-8.6],[3.11,-9.9],[3.07,-10.7],[3.03,-10.2],[2.99,-11.3],[2.95,-11.7],[2.91,-11.1],[2.87,-10.3],[2.84,-10.7],[2.80,-9.4],[2.77,-8.6],[2.74,-9.0],[2.71,-7.5],[2.68,-6.5],[2.66,-6.9],[2.63,-5.2],[2.61,-4.1],[2.59,-4.4],[2.57,-2.9],[2.55,-1.7],[2.56,-0.5],[2.53,0.8],[2.55,2.0],[2.54,3.1],[2.57,4.3],[2.59,5.2],[2.61,4.8],[2.64,6.4],[2.67,7.5],[2.70,8.3],[2.73,8.0],[2.77,9.6],[2.81,10.5],[2.84,10.1],[2.88,11.5],[2.92,12.3],[2.96,11.9],[2.99,13.2],[3.02,14.0],[3.05,13.4],[3.08,14.6],[3.11,15.0],[3.14,14.1],[3.17,14.9],[3.20,13.8],[3.24,14.4],[3.28,13.2],[3.32,13.9],[3.35,12.6],[3.38,12.9],[3.41,11.5],[3.44,10.6],[3.47,11.0],[3.50,9.3],[3.53,8.1],[3.55,8.5],[3.57,6.8],[3.59,5.4],[3.60,5.8],[3.62,4.1],[3.63,2.7],[3.62,1.4],[3.64,0.1],[3.62,-1.2],[3.64,-2.6],[3.62,-3.9],[3.61,-5.1],[3.59,-6.3],[3.58,-5.9],[3.56,-7.6],[3.53,-8.7],[3.50,-9.8],[3.47,-9.3],[3.44,-10.8],[3.40,-11.6],[3.36,-12.4],[3.32,-11.8],[3.28,-12.9],[3.24,-12.3],[3.20,-12.0],[3.16,-12.8],[3.12,-12.2],[3.08,-13.0],[3.04,-12.3],[3.00,-11.6],[2.96,-12.2],[2.92,-11.0],[2.89,-10.3],[2.86,-10.7],[2.82,-9.3],[2.79,-8.5],[2.76,-8.9],[2.73,-7.3],[2.71,-6.3],[2.70,-6.7],[2.68,-5.0],[2.66,-3.8],[2.67,-4.1],[2.64,-2.5],[2.66,-1.2],[2.63,0.1],[2.66,1.4],[2.65,2.6],[2.68,3.8],[2.67,4.6],[2.71,5.8],[2.74,6.9],[2.73,7.5],[2.78,8.6],[2.82,9.5],[2.81,9.9],[2.86,10.9],[2.90,11.6],[2.94,11.2],[2.98,12.3],[3.02,12.7],[3.06,12.2],[3.10,13.1],[3.14,12.5],[3.18,11.9],[3.22,12.8],[3.26,12.2],[3.30,13.0],[3.34,12.1],[3.38,11.6],[3.42,12.4],[3.46,11.9],[3.50,12.6],[3.54,11.3],[3.57,10.1],[3.60,10.5],[3.63,8.9],[3.66,7.8],[3.68,8.2],[3.70,6.4],[3.72,5.1],[3.74,5.5],[3.75,3.8],[3.76,2.4],[3.75,1.1],[3.77,-0.2],[3.75,-1.6],[3.77,-2.9],[3.75,-4.2],[3.74,-5.5],[3.72,-6.6],[3.71,-6.2],[3.69,-7.8],[3.66,-8.9],[3.63,-9.9],[3.60,-9.4],[3.57,-10.9],[3.53,-11.7],[3.49,-12.4],[3.45,-11.8],[3.41,-12.9],[3.37,-13.3],[3.33,-12.6],[3.29,-13.4],[3.25,-12.8],[3.21,-13.2],[3.17,-12.4],[3.13,-12.9],[3.09,-12.1],[3.05,-11.6],[3.01,-12.2],[2.98,-11.0],[2.95,-10.3],[2.92,-10.8],[2.89,-9.3],[2.87,-8.2],[2.85,-8.6],[2.83,-6.9],[2.82,-5.6],[2.80,-5.9],[2.79,-4.3],[2.80,-3.0],[2.78,-1.7],[2.80,-0.4],[2.79,0.9],[2.81,2.2],[2.80,3.3],[2.83,4.5],[2.85,5.6],[2.84,6.1],[2.88,7.4],[2.92,8.5],[2.91,9.0],[2.96,10.2],[3.00,11.1],[3.04,10.7],[3.08,12.0],[3.12,12.8],[3.16,12.3],[3.20,13.5],[3.24,14.2],[3.28,13.6],[3.32,14.6],[3.35,15.3],[3.38,14.5],[3.41,13.8],[3.45,14.3],[3.49,13.2],[3.53,13.7],[3.57,12.6],[3.61,12.1],[3.65,12.9],[3.69,11.8],[3.72,10.6],[3.75,11.1],[3.78,9.4],[3.81,8.1],[3.83,8.6],[3.85,6.8],[3.87,5.2],[3.88,5.6],[3.90,3.8],[3.91,2.3],[3.90,1.0],[3.92,-0.4],[3.90,-1.8],[3.92,-3.1],[3.90,-4.5],[3.89,-5.8],[3.87,-7.0],[3.86,-6.5],[3.84,-8.2],[3.81,-9.3],[3.78,-10.2],[3.75,-9.7],[3.71,-11.1],[3.67,-11.9],[3.63,-12.6],[3.59,-12.0],[3.55,-13.0],[3.51,-12.5],[3.47,-13.2],[3.43,-12.6],[3.39,-12.0],[3.35,-12.7],[3.31,-11.9],[3.27,-12.5],[3.23,-11.6],[3.19,-12.2],[3.15,-11.3],[3.11,-11.9],[3.07,-11.1],[3.03,-10.4],[2.99,-11.0],[2.95,-10.2],[2.91,-10.7],[2.87,-9.9],[2.83,-10.5],[2.79,-9.7],[2.75,-10.3],[2.71,-9.5],[2.67,-10.1],[2.63,-9.3],[2.59,-9.9],[2.55,-9.1],[2.51,-9.6]];

const rightLoopsD = [[2.47,-8.4],[2.50,-7.6],[2.42,-6.9],[2.45,-5.6],[2.38,-4.8],[2.43,-3.5],[2.37,-2.4],[2.41,-1.1],[2.36,0.2],[2.42,1.3],[2.38,2.6],[2.45,3.5],[2.41,4.9],[2.49,5.8],[2.46,7.1],[2.55,8.2],[2.52,9.4],[2.61,10.1],[2.58,11.3],[2.68,12.0],[2.66,13.4],[2.75,13.9],[2.79,12.8],[2.84,14.6],[2.90,13.5],[2.95,15.1],[3.00,14.0],[3.05,15.5],[3.09,14.2],[3.14,12.6],[3.19,13.7],[3.24,11.9],[3.28,12.8],[3.33,10.8],[3.38,11.4],[3.42,9.6],[3.49,10.2],[3.47,8.3],[3.55,7.6],[3.51,6.2],[3.59,5.5],[3.54,4.1],[3.62,3.2],[3.57,1.8],[3.64,0.6],[3.58,-0.8],[3.65,-2.0],[3.59,-3.4],[3.66,-4.5],[3.60,-5.9],[3.63,-7.2],[3.55,-8.1],[3.58,-9.6],[3.49,-10.3],[3.51,-11.8],[3.42,-12.4],[3.36,-11.6],[3.31,-13.1],[3.25,-12.2],[3.19,-13.5],[3.13,-12.4],[3.07,-11.2],[3.01,-12.3],[2.95,-10.6],[2.91,-11.5],[2.85,-9.8],[2.82,-10.4],[2.76,-8.6],[2.79,-7.4],[2.71,-6.9],[2.74,-5.5],[2.67,-4.6],[2.71,-3.3],[2.64,-2.1],[2.69,-0.9],[2.63,0.4],[2.69,1.6],[2.65,2.9],[2.72,3.8],[2.68,5.2],[2.76,6.1],[2.73,7.4],[2.82,8.3],[2.79,9.6],[2.88,10.4],[2.86,11.7],[2.95,12.3],[2.99,13.6],[3.04,12.5],[3.09,13.9],[3.14,12.8],[3.19,14.3],[3.24,13.1],[3.30,14.0],[3.35,12.4],[3.40,13.2],[3.45,11.5],[3.50,12.1],[3.54,10.3],[3.61,10.8],[3.59,9.0],[3.67,8.3],[3.63,6.9],[3.71,6.1],[3.66,4.7],[3.74,3.8],[3.68,2.4],[3.76,1.4],[3.70,0.0],[3.77,-1.2],[3.71,-2.6],[3.77,-3.7],[3.70,-5.1],[3.74,-6.3],[3.66,-7.2],[3.70,-8.7],[3.61,-9.4],[3.63,-10.9],[3.54,-11.5],[3.56,-12.8],[3.47,-13.3],[3.41,-12.4],[3.35,-13.8],[3.29,-12.8],[3.23,-14.0],[3.17,-12.9],[3.11,-13.6],[3.05,-12.3],[2.99,-13.0],[2.96,-11.2],[3.00,-10.1],[2.93,-9.2],[2.97,-7.8],[2.90,-6.9],[2.95,-5.5],[2.88,-4.4],[2.93,-3.1],[2.87,-1.9],[2.92,-0.6],[2.86,0.6],[2.93,1.9],[2.88,3.1],[2.95,4.2],[2.91,5.6],[2.99,6.5],[2.96,7.9],[3.05,8.7],[3.02,10.1],[3.11,10.8],[3.09,12.2],[3.18,12.9],[3.23,11.8],[3.28,13.4],[3.34,12.3],[3.39,13.9],[3.45,12.6],[3.50,11.1],[3.56,11.8],[3.61,10.1],[3.66,10.6],[3.70,8.8],[3.77,9.2],[3.74,7.5],[3.82,6.8],[3.77,5.3],[3.85,4.5],[3.79,3.0],[3.86,1.9],[3.80,0.5],[3.87,-0.7],[3.81,-2.1],[3.87,-3.3],[3.80,-4.6],[3.84,-5.9],[3.76,-6.8],[3.79,-8.3],[3.70,-9.0],[3.72,-10.5],[3.63,-11.1],[3.64,-12.5],[3.55,-12.9],[3.49,-12.0],[3.43,-13.4],[3.37,-12.5],[3.31,-13.6],[3.25,-12.6],[3.19,-13.3],[3.13,-12.0],[3.07,-12.8],[3.01,-11.5],[2.95,-12.1],[2.90,-10.6],[2.84,-11.2],[2.80,-9.6],[2.74,-10.1],[2.70,-8.7],[2.64,-9.2],[2.60,-8.0],[2.55,-8.6],[2.50,-7.9]];

const rightLoopsE = [[2.46,-6.8],[2.52,-5.9],[2.47,-4.6],[2.54,-3.5],[2.49,-2.2],[2.56,-1.1],[2.51,0.3],[2.58,1.4],[2.54,2.8],[2.62,3.7],[2.58,5.1],[2.67,5.9],[2.63,7.3],[2.72,8.0],[2.70,9.4],[2.79,10.0],[2.77,11.3],[2.86,11.9],[2.91,10.9],[2.96,12.6],[3.02,11.4],[3.07,12.9],[3.12,11.6],[3.17,12.4],[3.22,10.7],[3.27,11.3],[3.31,9.4],[3.37,9.8],[3.35,8.0],[3.42,7.3],[3.38,5.9],[3.45,5.1],[3.40,3.6],[3.47,2.7],[3.41,1.3],[3.48,0.2],[3.42,-1.2],[3.48,-2.3],[3.41,-3.7],[3.46,-4.8],[3.38,-5.9],[3.42,-7.2],[3.33,-8.0],[3.35,-9.5],[3.26,-10.1],[3.27,-11.5],[3.18,-11.9],[3.12,-10.9],[3.06,-12.2],[3.00,-11.1],[2.94,-11.9],[2.89,-10.3],[2.84,-10.9],[2.80,-9.1],[2.75,-9.6],[2.73,-7.9],[2.67,-7.4],[2.71,-6.0],[2.64,-5.1],[2.69,-3.8],[2.62,-2.8],[2.68,-1.5],[2.62,-0.3],[2.69,0.9],[2.64,2.2],[2.71,3.1],[2.68,4.5],[2.76,5.3],[2.73,6.7],[2.82,7.4],[2.80,8.8],[2.89,9.4],[2.87,10.8],[2.96,11.3],[3.01,12.7],[3.06,11.6],[3.11,13.2],[3.16,12.0],[3.21,13.5],[3.26,12.2],[3.31,13.1],[3.36,11.4],[3.41,12.0],[3.46,10.1],[3.52,10.5],[3.50,8.7],[3.58,8.0],[3.54,6.6],[3.62,5.8],[3.57,4.3],[3.65,3.4],[3.59,2.0],[3.66,0.9],[3.60,-0.5],[3.67,-1.6],[3.60,-3.0],[3.66,-4.1],[3.58,-5.4],[3.62,-6.7],[3.53,-7.5],[3.56,-9.0],[3.47,-9.6],[3.48,-11.1],[3.39,-11.6],[3.40,-13.0],[3.31,-13.2],[3.25,-12.1],[3.19,-13.3],[3.13,-12.0],[3.07,-12.7],[3.01,-11.3],[2.97,-11.9],[3.01,-10.2],[2.95,-9.4],[3.00,-8.0],[2.93,-7.1],[2.99,-5.8],[2.92,-4.8],[2.98,-3.5],[2.92,-2.4],[2.98,-1.1],[2.92,0.1],[2.99,1.2],[2.94,2.6],[3.01,3.5],[2.97,4.9],[3.05,5.7],[3.02,7.1],[3.11,7.8],[3.09,9.2],[3.18,9.8],[3.16,11.1],[3.25,11.6],[3.30,10.5],[3.35,12.0],[3.41,10.9],[3.46,11.7],[3.52,10.2],[3.57,10.8],[3.62,9.1],[3.68,9.5],[3.66,7.8],[3.74,7.1],[3.69,5.6],[3.77,4.8],[3.71,3.3],[3.78,2.3],[3.72,0.9],[3.79,-0.2],[3.72,-1.6],[3.78,-2.7],[3.71,-4.0],[3.75,-5.3],[3.67,-6.2],[3.70,-7.7],[3.61,-8.3],[3.63,-9.8],[3.54,-10.4],[3.55,-11.8],[3.46,-12.2],[3.40,-11.3],[3.34,-12.6],[3.28,-11.5],[3.22,-12.4],[3.16,-11.0],[3.10,-11.8],[3.04,-10.5],[2.98,-11.2],[2.92,-9.9],[2.86,-10.5],[2.80,-9.2],[2.74,-9.7],[2.68,-8.6],[2.62,-9.1],[2.56,-8.2],[2.52,-8.6]];

const lowerReturn = [[2.47,-8.9],[2.43,-9.4],[2.39,-8.7],[2.35,-9.2],[2.31,-8.6],[2.27,-9.1],[2.23,-8.5],[2.19,-9.0],[2.15,-8.4],[2.11,-8.9],[2.07,-8.3],[2.03,-8.8],[1.99,-8.2],[1.95,-8.7],[1.91,-8.1],[1.87,-8.6],[1.83,-8.0],[1.79,-8.5],[1.75,-7.9],[1.71,-8.4],[1.67,-7.8],[1.63,-8.3],[1.59,-7.7],[1.55,-8.2],[1.51,-7.6],[1.47,-8.1],[1.43,-7.5],[1.39,-8.0],[1.35,-7.4],[1.31,-7.9],[1.27,-7.3],[1.23,-7.8],[1.19,-7.2],[1.15,-7.7],[1.11,-7.1],[1.07,-7.6],[1.03,-7.0],[0.99,-7.5],[0.95,-6.9],[0.91,-7.4],[0.87,-6.8],[0.83,-7.3],[0.79,-6.8],[0.75,-7.2],[0.71,-6.7],[0.67,-7.1],[0.63,-6.6],[0.59,-7.0],[0.55,-6.5],[0.51,-6.9],[0.47,-6.4],[0.43,-6.8],[0.39,-6.3],[0.35,-6.7],[0.31,-6.2],[0.27,-6.6],[0.23,-6.1],[0.19,-6.5],[0.15,-6.0],[0.11,-6.4],[0.07,-5.9],[0.03,-6.3],[-0.01,-5.8],[-0.05,-6.2],[-0.09,-5.7],[-0.13,-6.1],[-0.17,-5.6],[-0.21,-6.0],[-0.25,-5.5],[-0.29,-5.9],[-0.33,-5.4],[-0.37,-5.8],[-0.41,-5.3],[-0.45,-5.7],[-0.49,-5.2],[-0.53,-5.6],[-0.57,-5.1],[-0.61,-5.5],[-0.65,-5.0],[-0.69,-5.4],[-0.73,-4.9],[-0.77,-5.3],[-0.81,-4.8],[-0.85,-5.2],[-0.89,-4.7],[-0.93,-5.1],[-0.97,-4.6],[-1.01,-4.2],[-1.05,-3.5],[-1.08,-2.6],[-1.10,-1.6],[-1.12,-0.5],[-1.11,0.6],[-1.13,1.6],[-1.10,2.5],[-1.07,3.3],[-1.03,3.9],[-0.99,3.4],[-0.95,4.0],[-0.91,3.5],[-0.87,4.1],[-0.83,3.5],[-0.79,3.9],[-0.75,3.3],[-0.71,3.8],[-0.67,3.2],[-0.63,3.7],[-0.59,3.1],[-0.55,3.5],[-0.51,2.9],[-0.47,3.4],[-0.43,2.8],[-0.39,3.2],[-0.35,2.6],[-0.31,3.1],[-0.27,2.5],[-0.23,2.9],[-0.19,2.3],[-0.15,2.8],[-0.11,2.2],[-0.07,2.6],[-0.03,2.0],[0.01,2.4],[0.05,1.9],[0.09,2.2],[0.13,1.6],[0.17,1.9],[0.21,1.3],[0.25,1.5],[0.29,0.9],[0.33,0.4],[0.37,0.9],[0.41,0.5],[0.45,1.2],[0.49,1.8],[0.53,1.4],[0.57,2.3],[0.61,2.0],[0.65,2.9],[0.69,2.5],[0.73,3.3],[0.77,2.9],[0.81,3.6],[0.85,3.2],[0.89,3.9],[0.93,3.4],[0.97,4.1],[1.01,3.6],[1.05,4.3],[1.09,3.8],[1.13,4.5],[1.17,4.0],[1.21,4.6],[1.25,4.1],[1.28,3.0],[1.30,1.8],[1.32,0.6],[1.34,-0.2],[1.36,0.9],[1.38,2.2],[1.41,3.4],[1.44,4.1],[1.48,3.6],[1.52,4.7],[1.56,5.3],[1.60,4.8],[1.64,5.8],[1.68,5.2],[1.72,6.1],[1.76,5.5],[1.80,6.4],[1.84,5.9],[1.88,6.8],[1.92,6.2],[1.96,7.1],[2.00,6.5],[2.04,7.4],[2.08,6.9],[2.12,7.8],[2.16,7.2],[2.20,8.1],[2.24,7.5],[2.28,8.4],[2.32,7.8],[2.36,8.7],[2.40,8.1]];

const finalLeg = [[2.44,9.0],[2.48,9.9],[2.52,10.6],[2.56,10.2],[2.60,11.4],[2.64,12.1],[2.68,11.7],[2.72,12.9],[2.76,13.4],[2.80,12.6],[2.84,13.5],[2.87,12.2],[2.90,11.6],[2.93,10.4],[2.96,10.8],[2.99,9.1],[3.02,8.0],[3.04,8.4],[3.06,6.7],[3.08,5.3],[3.09,5.7],[3.11,4.0],[3.12,2.6],[3.11,1.3],[3.13,0.0],[3.11,-1.3],[3.12,-2.7],[3.10,-4.0],[3.09,-5.2],[3.07,-6.4],[3.05,-6.0],[3.03,-7.6],[3.00,-8.6],[2.97,-9.5],[2.94,-9.0],[2.90,-10.1],[2.86,-9.6],[2.82,-10.2],[2.78,-9.4],[2.74,-8.8],[2.70,-9.3],[2.66,-8.5],[2.62,-9.0],[2.58,-8.2],[2.54,-8.7],[2.50,-7.9],[2.46,-8.4],[2.42,-7.7],[2.38,-8.2],[2.34,-7.5],[2.30,-8.0],[2.26,-7.3],[2.22,-7.8],[2.18,-7.1],[2.14,-7.6],[2.10,-6.9],[2.06,-7.4],[2.02,-6.8],[1.98,-7.3],[1.94,-6.6],[1.90,-7.1],[1.86,-6.5],[1.82,-7.0],[1.78,-6.3],[1.74,-6.8],[1.70,-6.2],[1.66,-6.7],[1.62,-6.1],[1.58,-6.6],[1.54,-6.0],[1.50,-6.5],[1.46,-5.9],[1.42,-6.4],[1.38,-5.8],[1.34,-6.3],[1.30,-5.7],[1.26,-6.2],[1.22,-5.6],[1.18,-6.1],[1.14,-5.5],[1.10,-6.0],[1.06,-5.4],[1.02,-5.9],[0.98,-5.4],[0.94,-5.9],[0.90,-5.4],[0.86,-5.9],[0.82,-5.5],[0.79,-5.9]];

// ---------------- drawing ----------------
const trajectory = [].concat(startLeg, leftOuterLoop, topArcCrossing, bottomLowCrossing,
  leftMidLoops, upperCrossing, rightLoopsB, bottomMidCrossing, leftMidLoops2, leftMidLoops3,
  midCrossing, rightLoopsC, rightLoopsD, rightLoopsE, lowerReturn, finalLeg);

const plot = { left: 77, right: 614, top: 65, bottom: 468 };
const svg = d3.select("#chart");
const FONT = '"Liberation Serif", "Times New Roman", Tinos, "Nimbus Roman", FreeSerif, "Noto Serif", "DejaVu Serif", serif';

const x = d3.scaleLinear().domain([-6, 6]).range([plot.left, plot.right]);
const y = d3.scaleLinear().domain([-30, 30]).range([plot.bottom, plot.top]);

// trajectory
svg.append("path")
  .datum(trajectory)
  .attr("fill", "none")
  .attr("stroke", "#000")
  .attr("stroke-width", 2)
  .attr("stroke-linejoin", "round")
  .attr("stroke-linecap", "round")
  .attr("d", d3.line().x(d => x(d[0])).y(d => y(d[1])));

const MAJ = 13, MIN = 6.5;
function axisGroup(axis, tx, ty) {
  const g = svg.append("g").attr("transform", `translate(${tx},${ty})`).call(axis);
  g.select(".domain").remove();
  g.selectAll(".tick line").attr("stroke", "#000").attr("stroke-width", 1.3);
  return g;
}
function styleLabels(sel, size, italic) {
  sel.style("font-family", FONT)
    .style("font-style", italic ? "italic" : "normal")
    .style("font-size", size + "px").attr("fill", "#000");
}
// scale a text's font so that its rendered width hits the width seen in the picture
function fitSize(node, baseSize, targetWidth) {
  const w = node.getComputedTextLength();
  return w > 0 ? baseSize * targetWidth / w : baseSize;
}

// bottom
const gb = axisGroup(d3.axisBottom(x).tickValues(xMajorTicks).tickSize(-MAJ).tickSizeOuter(0)
  .tickFormat(d => String(d)), 0, plot.bottom);
axisGroup(d3.axisBottom(x).tickValues(xMinorTicks).tickSize(-MIN).tickSizeOuter(0).tickFormat(""), 0, plot.bottom);
// top
axisGroup(d3.axisTop(x).tickValues(xMajorTicks).tickSize(-MAJ).tickSizeOuter(0).tickFormat(""), 0, plot.top);
axisGroup(d3.axisTop(x).tickValues(xMinorTicks).tickSize(-MIN).tickSizeOuter(0).tickFormat(""), 0, plot.top);
// left
const gl = axisGroup(d3.axisLeft(y).tickValues(yMajorTicks).tickSize(-MAJ).tickSizeOuter(0)
  .tickFormat(d => String(d)), plot.left, 0);
axisGroup(d3.axisLeft(y).tickValues(yMinorTicks).tickSize(-MIN).tickSizeOuter(0).tickFormat(""), plot.left, 0);
// right
axisGroup(d3.axisRight(y).tickValues(yMajorTicks).tickSize(-MAJ).tickSizeOuter(0).tickFormat(""), plot.right, 0);
axisGroup(d3.axisRight(y).tickValues(yMinorTicks).tickSize(-MIN).tickSizeOuter(0).tickFormat(""), plot.right, 0);

// tick label font size from the width of "30" (about 27 px in the picture)
const leftTexts = gl.selectAll(".tick text");
leftTexts.call(styleLabels, 26, true);
const probe = leftTexts.filter(d => d === 30).node();
const tickSize = Math.min(26, fitSize(probe, 26, 27));
leftTexts.call(styleLabels, tickSize, true)
  .attr("x", -7).attr("dy", "0.36em").attr("text-anchor", "end");
gb.selectAll(".tick text").call(styleLabels, tickSize, true)
  .attr("y", 27).attr("dy", null);

// frame
svg.append("rect")
  .attr("x", plot.left).attr("y", plot.top)
  .attr("width", plot.right - plot.left).attr("height", plot.bottom - plot.top)
  .attr("fill", "none").attr("stroke", "#000").attr("stroke-width", 1.5);

// title
const tt = svg.append("text")
  .attr("x", (plot.left + plot.right) / 2).attr("y", 23)
  .attr("text-anchor", "middle")
  .text(titleText);
tt.call(styleLabels, 22, false);
tt.call(styleLabels, Math.min(22, fitSize(tt.node(), 22, 30)), false);

// axis titles
const xt = svg.append("text")
  .attr("x", 347).attr("y", 521)
  .attr("text-anchor", "middle")
  .text(xLabel);
xt.call(styleLabels, 26, true);
xt.call(styleLabels, Math.min(24, fitSize(xt.node(), 26, 40)), true);

const yt = svg.append("text")
  .attr("transform", `translate(22,267) rotate(-90)`)
  .attr("text-anchor", "middle")
  .text(yLabel);
yt.call(styleLabels, 26, true);
yt.call(styleLabels, Math.min(24, fitSize(yt.node(), 26, 39)), true);
</script>
</body>
</html>
